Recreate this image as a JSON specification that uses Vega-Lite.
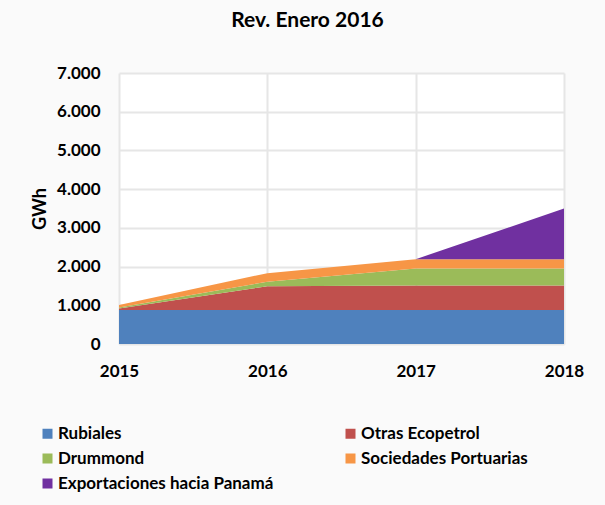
{
  "$schema": "https://vega.github.io/schema/vega-lite/v6.json",
  "width": 445,
  "height": 271,
  "autosize": "none",
  "padding": {"left": 119, "top": 73, "right": 41, "bottom": 161},
  "background": "#fafafa",
  "title": {
    "text": "Rev. Enero 2016",
    "font": "Lato",
    "fontSize": 21,
    "fontWeight": "bold",
    "color": "#000000",
    "anchor": "middle",
    "dx": -34,
    "offset": 33
  },
  "config": {
    "view": {"stroke": null, "fill": "#ffffff"},
    "axis": {
      "labelFont": "Lato",
      "labelFontWeight": "bold",
      "labelFontSize": 17,
      "labelColor": "#000000",
      "titleFont": "Lato",
      "titleFontWeight": "bold",
      "titleFontSize": 18,
      "titleColor": "#000000",
      "gridColor": "#e6e6e6",
      "gridWidth": 2,
      "domain": false,
      "ticks": false
    },
    "legend": {
      "labelFont": "Lato",
      "labelFontWeight": "bold",
      "labelFontSize": 17,
      "labelColor": "#000000"
    }
  },
  "data": {
    "values": [
      {"year": 2015, "serie": "Rubiales", "k": 1, "gwh": 880},
      {"year": 2016, "serie": "Rubiales", "k": 1, "gwh": 880},
      {"year": 2017, "serie": "Rubiales", "k": 1, "gwh": 880},
      {"year": 2018, "serie": "Rubiales", "k": 1, "gwh": 880},
      {"year": 2015, "serie": "Otras Ecopetrol", "k": 2, "gwh": 40},
      {"year": 2016, "serie": "Otras Ecopetrol", "k": 2, "gwh": 610},
      {"year": 2017, "serie": "Otras Ecopetrol", "k": 2, "gwh": 630},
      {"year": 2018, "serie": "Otras Ecopetrol", "k": 2, "gwh": 630},
      {"year": 2015, "serie": "Drummond", "k": 3, "gwh": 25},
      {"year": 2016, "serie": "Drummond", "k": 3, "gwh": 120},
      {"year": 2017, "serie": "Drummond", "k": 3, "gwh": 440},
      {"year": 2018, "serie": "Drummond", "k": 3, "gwh": 440},
      {"year": 2015, "serie": "Sociedades Portuarias", "k": 4, "gwh": 60},
      {"year": 2016, "serie": "Sociedades Portuarias", "k": 4, "gwh": 220},
      {"year": 2017, "serie": "Sociedades Portuarias", "k": 4, "gwh": 240},
      {"year": 2018, "serie": "Sociedades Portuarias", "k": 4, "gwh": 240},
      {"year": 2015, "serie": "Exportaciones hacia Panamá", "k": 5, "gwh": 0},
      {"year": 2016, "serie": "Exportaciones hacia Panamá", "k": 5, "gwh": 0},
      {"year": 2017, "serie": "Exportaciones hacia Panamá", "k": 5, "gwh": 0},
      {"year": 2018, "serie": "Exportaciones hacia Panamá", "k": 5, "gwh": 1310}
    ]
  },
  "mark": {"type": "area", "opacity": 1},
  "encoding": {
    "x": {
      "field": "year",
      "type": "quantitative",
      "scale": {"domain": [2015, 2018], "nice": false, "zero": false},
      "axis": {"title": null, "values": [2015, 2016, 2017, 2018], "format": "d", "labelPadding": 19, "labelFlush": false}
    },
    "y": {
      "field": "gwh",
      "type": "quantitative",
      "stack": "zero",
      "scale": {"domain": [0, 7000], "nice": false},
      "axis": {
        "title": "GWh",
        "values": [0, 1000, 2000, 3000, 4000, 5000, 6000, 7000],
        "labelExpr": "replace(format(datum.value, ',d'), ',', '.')",
        "labelPadding": 19,
        "titlePadding": 7
      }
    },
    "order": {"field": "k", "type": "quantitative"},
    "color": {
      "field": "serie",
      "type": "nominal",
      "scale": {
        "domain": ["Rubiales", "Otras Ecopetrol", "Drummond", "Sociedades Portuarias", "Exportaciones hacia Panamá"],
        "range": ["#4F81BD", "#C0504D", "#9BBB59", "#F79646", "#7030A0"]
      },
      "legend": {
        "title": null,
        "orient": "none",
        "direction": "horizontal",
        "legendX": -80,
        "legendY": 352,
        "columns": 2,
        "columnPadding": 68,
        "rowPadding": 7,
        "symbolType": "square",
        "symbolSize": 100,
        "symbolStrokeWidth": 0,
        "symbolOpacity": 1,
        "labelOffset": 2,
        "labelLimit": 300
      }
    }
  }
}
